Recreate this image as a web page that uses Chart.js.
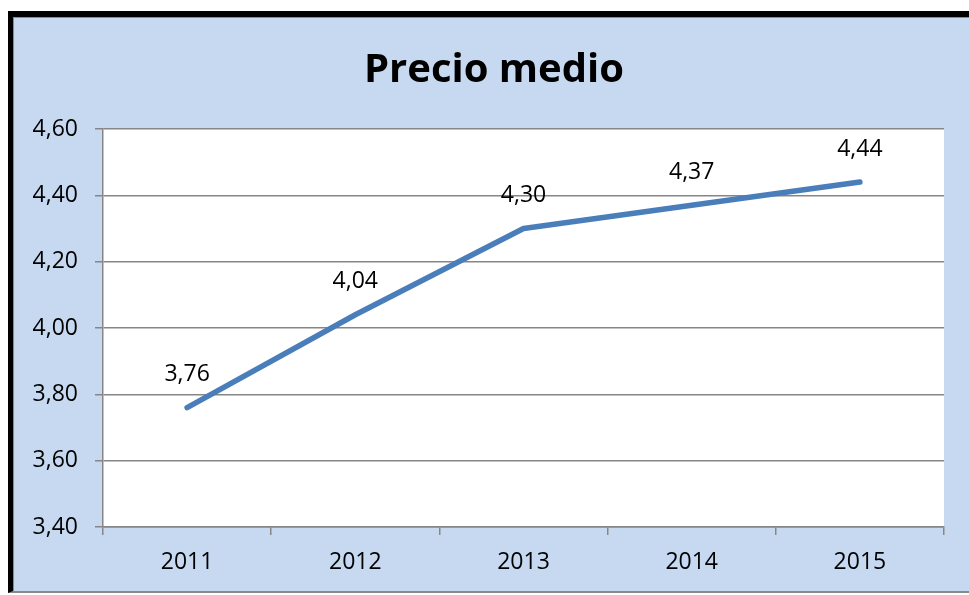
<!DOCTYPE html>
<html>
<head>
<meta charset="utf-8">
<script src="https://cdn.jsdelivr.net/npm/chart.js@4/dist/chart.umd.min.js"></script>
<style>
  html, body { margin: 0; padding: 0; background: #fff; }
  #frame {
    position: absolute; left: 8px; top: 11px; width: 956px; height: 574px;
    background: #C6D9F1;
    border-left: 5px solid #000; border-top: 6px solid #000; border-bottom: 2px solid #8a8a8a;
    box-shadow: inset 1px 1px 0 #8a8a8a;
  }
  #precioChart { position: absolute; left: 0; top: 0; }
</style>
</head>
<body>
<div id="frame"></div>
<canvas id="precioChart" width="969" height="595"></canvas>
<script>
const title = 'Precio medio';
const years = ['2011', '2012', '2013', '2014', '2015'];
const precios = [3.76, 4.04, 4.30, 4.37, 4.44];
const yMin = 3.4;
const yMax = 4.6;
const yStep = 0.2;

const fmt = (v) => v.toFixed(2).replace('.', ',');

// white plot area, title and value labels
const extras = {
  id: 'extras',
  beforeDraw(chart) {
    const { ctx, chartArea: a } = chart;
    ctx.save();
    ctx.fillStyle = '#fff';
    ctx.fillRect(a.left, a.top, a.right - a.left, a.bottom - a.top);
    ctx.restore();
  },
  afterDatasetsDraw(chart) {
    const ctx = chart.ctx;
    ctx.save();
    ctx.fillStyle = '#000';
    ctx.textAlign = 'center';
    ctx.textBaseline = 'middle';
    ctx.font = 'bold 40px "Open Sans"';
    ctx.fillText(title, 494, 71);
    ctx.font = '23px "Open Sans"';
    chart.getDatasetMeta(0).data.forEach((pt, i) => {
      ctx.fillText(fmt(precios[i]), pt.x, pt.y - 33);
    });
    ctx.restore();
  }
};

new Chart(document.getElementById('precioChart'), {
  type: 'line',
  data: {
    labels: years,
    datasets: [{
      data: precios,
      borderColor: '#4A7EBB',
      borderWidth: 5.5,
      borderCapStyle: 'round',
      borderJoinStyle: 'round',
      pointRadius: 0,
      tension: 0
    }]
  },
  options: {
    responsive: false,
    animation: false,
    layout: { padding: { top: 129, right: 25, left: 0, bottom: 0 } },
    plugins: { legend: { display: false }, tooltip: { enabled: false } },
    scales: {
      x: {
        offset: true,
        afterFit: (s) => { s.height = 68; },
        grid: { offset: true, drawOnChartArea: false, tickLength: 8, color: '#868686', lineWidth: 1.5 },
        border: { color: '#868686', width: 1.5 },
        ticks: { color: '#000', font: { family: 'Open Sans', size: 23 }, padding: 14, maxRotation: 0 }
      },
      y: {
        min: yMin,
        max: yMax,
        afterFit: (s) => { s.width = 103; },
        grid: { color: '#868686', lineWidth: 1.5, tickLength: 8 },
        border: { color: '#868686', width: 1.5 },
        ticks: {
          stepSize: yStep,
          color: '#000',
          font: { family: 'Open Sans', size: 23 },
          padding: 17,
          callback: (v) => fmt(v)
        }
      }
    }
  },
  plugins: [extras]
});
</script>
</body>
</html>
